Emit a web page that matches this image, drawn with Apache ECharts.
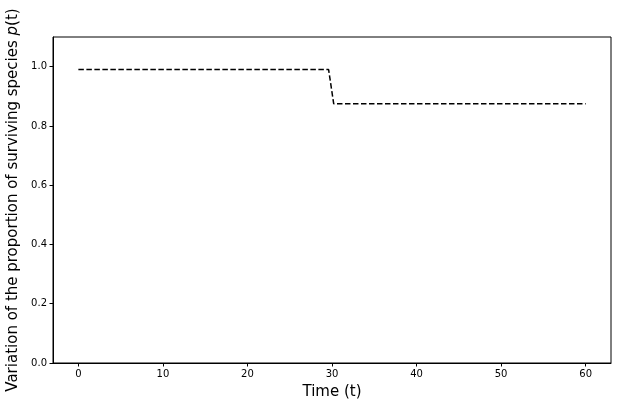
<!DOCTYPE html>
<html><head><meta charset="utf-8">
<script src="https://cdn.jsdelivr.net/npm/echarts@6/dist/echarts.min.js"></script>
<style>html,body{margin:0;padding:0;background:#fff}#c{width:618px;height:406px}</style>
</head><body><div id="c"></div>
<script>
const timePoints = [0, 29.6, 30.2, 60];
const survivingProportion = [0.99, 0.99, 0.875, 0.875];
const xTicks = [0, 10, 20, 30, 40, 50, 60];
const yTicks = [0, 0.2, 0.4, 0.6, 0.8, 1.0];

const chart = echarts.init(document.getElementById('c'), null, {renderer: 'canvas'});
const font = 'DejaVu Sans';
chart.setOption({
  animation: false,
  backgroundColor: '#fff',
  grid: {left: 53, right: 7, top: 37, bottom: 43, show: true, borderColor: '#000', borderWidth: 1, backgroundColor: 'transparent', outerBoundsMode: 'none', containLabel: false},
  xAxis: {
    type: 'value', min: -3, max: 63,
    name: 'Time (t)', nameLocation: 'middle', nameGap: 22,
    nameTextStyle: {fontFamily: font, fontSize: 15, color: '#000'},
    axisLine: {show: true, onZero: false, lineStyle: {color: '#000', width: 1}},
    axisTick: {show: true, length: 3.5, inside: false, lineStyle: {color: '#000'}, customValues: xTicks},
    axisLabel: {fontFamily: font, fontSize: 10, color: '#000', margin: 6, customValues: xTicks, formatter: v => String(v)},
    splitLine: {show: false}
  },
  yAxis: {
    type: 'value', min: 0, max: 1.1,
    name: 'Variation of the proportion of surviving species {i|p}(t)', nameLocation: 'middle', nameGap: 32,
    nameTextStyle: {fontFamily: font, fontSize: 15, color: '#000', rich: {i: {fontFamily: font, fontSize: 15, fontStyle: 'italic', color: '#000'}}},
    axisLine: {show: true, onZero: false, lineStyle: {color: '#000', width: 1}},
    axisTick: {show: true, length: 3.5, inside: false, lineStyle: {color: '#000'}, customValues: yTicks},
    axisLabel: {fontFamily: font, fontSize: 10, color: '#000', margin: 6, customValues: yTicks, formatter: v => v.toFixed(1)},
    splitLine: {show: false}
  },
  series: [{
    type: 'line', data: timePoints.map((t, i) => [t, survivingProportion[i]]),
    showSymbol: false, symbol: 'none',
    lineStyle: {color: '#000', width: 1.5, type: [5.5, 2.5]}
  }]
});
</script></body></html>
